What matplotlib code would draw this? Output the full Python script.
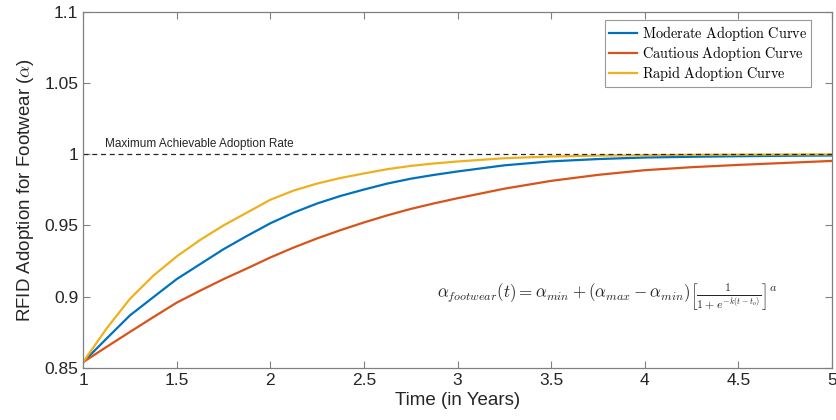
import numpy as np
import matplotlib.pyplot as plt

plt.rcParams['mathtext.fontset'] = 'cm'
plt.rcParams['font.family'] = ['Liberation Sans', 'DejaVu Sans']

# values
years = [1.0, 1.125, 1.25, 1.375, 1.5, 1.625, 1.75, 1.875, 2.0, 2.125, 2.25,
         2.375, 2.5, 2.625, 2.75, 2.875, 3.0, 3.25, 3.5, 3.75, 4.0, 4.25, 4.5,
         4.75, 5.0]
moderate = [0.854, 0.8705, 0.8868, 0.8996, 0.9123, 0.9228, 0.9333, 0.9426, 0.9515,
            0.9590, 0.9654, 0.9707, 0.9752, 0.9794, 0.9828, 0.9855, 0.9879,
            0.9922, 0.9950, 0.9966, 0.9977, 0.9982, 0.9986, 0.9989, 0.9991]
cautious = [0.854, 0.8647, 0.8752, 0.8856, 0.8958, 0.9042, 0.9123, 0.9198, 0.9275,
            0.9345, 0.9409, 0.9467, 0.9521, 0.9571, 0.9616, 0.9655, 0.9691,
            0.9758, 0.9813, 0.9855, 0.9888, 0.9909, 0.9925, 0.9939, 0.9953]
rapid = [0.854, 0.8775, 0.8984, 0.9147, 0.9282, 0.9398, 0.9500, 0.9590, 0.9680,
         0.9745, 0.9794, 0.9833, 0.9865, 0.9895, 0.9918, 0.9935, 0.9949,
         0.9972, 0.9984, 0.9990, 0.9993, 0.9996, 0.9997, 0.9998, 0.9999]
max_rate = 1.0

labels = ['Moderate Adoption Curve', 'Cautious Adoption Curve', 'Rapid Adoption Curve']
colors = ['#0072BD', '#D95319', '#EDB120']

fig = plt.figure(figsize=(8.36, 4.2), dpi=100)
ax = fig.add_axes([0.0993, 0.124, 0.8959, 0.848])

for y, lab, c in zip([moderate, cautious, rapid], labels, colors):
    ax.plot(years, y, color=c, lw=1.6,
            label=r'$\mathrm{' + lab.replace(' ', r'\ ') + '}$')

ax.axhline(max_rate, color='#262626', ls=(0, (4, 3)), lw=0.9)
ax.text(1.12, max_rate + 0.003, 'Maximum Achievable Adoption Rate',
        fontsize=8.5, color='#262626', va='bottom', ha='left')

ax.text(3.80, 0.900,
        r'$\alpha_{footwear}(t)=\alpha_{min}+(\alpha_{max}-\alpha_{min})'
        r'\left[\frac{1}{1+e^{-k(t-t_o)}}\right]^a$',
        fontsize=12.3, ha='center', va='center', color='#262626')

ax.set_xlim(1, 5)
ax.set_ylim(0.85, 1.1)
ax.set_xticks(np.arange(1, 5.01, 0.5))
ax.set_xticklabels(['1', '1.5', '2', '2.5', '3', '3.5', '4', '4.5', '5'])
ax.set_yticks(np.arange(0.85, 1.101, 0.05))
ax.set_yticklabels(['0.85', '0.9', '0.95', '1', '1.05', '1.1'])
ax.tick_params(direction='in', top=True, right=True, length=5, width=0.8,
               color='#808080', labelcolor='#262626', labelsize=12.5)
for s in ax.spines.values():
    s.set_color('#808080')
    s.set_linewidth(0.9)

ax.set_xlabel('Time (in Years)', fontsize=13.5, color='#262626', labelpad=3)
ax.set_ylabel(r'RFID Adoption for Footwear ($\alpha$)', fontsize=13.5,
              color='#262626', labelpad=6)

leg = ax.legend(loc='upper right', bbox_to_anchor=(0.978, 0.99), fontsize=10.3,
                frameon=True, fancybox=False, handlelength=2.0,
                handletextpad=0.3, borderpad=0.3, labelspacing=0.08,
                borderaxespad=0.3)
leg.get_frame().set_edgecolor('#808080')
leg.get_frame().set_linewidth(0.8)

fig.savefig('out.png', dpi=100)
